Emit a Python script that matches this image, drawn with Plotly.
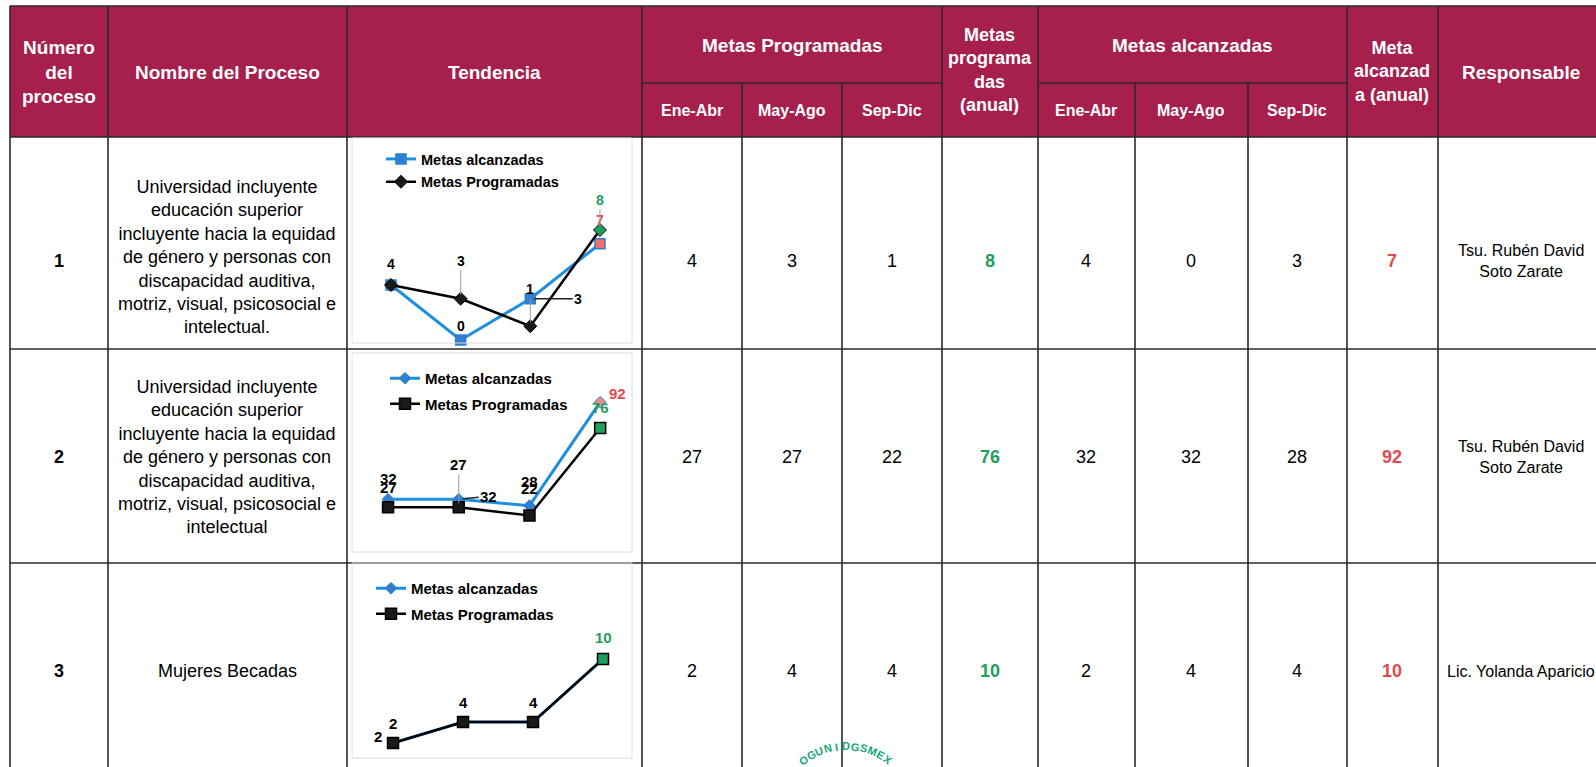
import math
import plotly.graph_objects as go

W, H = 1596, 767

# ---------------- data ----------------
numeros = ["1", "2", "3"]
nombres = [
    "Universidad incluyente<br>educación superior<br>incluyente hacia la equidad<br>de género y personas con<br>discapacidad auditiva,<br>motriz, visual, psicosocial e<br>intelectual.",
    "Universidad incluyente<br>educación superior<br>incluyente hacia la equidad<br>de género y personas con<br>discapacidad auditiva,<br>motriz, visual, psicosocial e<br>intelectual",
    "Mujeres Becadas",
]
periodos = ["Ene-Abr", "May-Ago", "Sep-Dic"]
periodos_graf = ["Ene-Abr", "May-Ago", "Sep-Dic", "Anual"]
metas_programadas = [[4, 3, 1], [27, 27, 22], [2, 4, 4]]
metas_prog_anual = [8, 76, 10]
metas_alcanzadas = [[4, 0, 3], [32, 32, 28], [2, 4, 4]]
metas_alc_anual = [7, 92, 10]
responsables = ["Tsu. Rubén David<br>Soto Zarate", "Tsu. Rubén David<br>Soto Zarate", "Lic. Yolanda Aparicio"]
serie_alc = "Metas alcanzadas"
serie_prog = "Metas Programadas"
sello = "OGUNIDGSMEX"

# ---------------- style ----------------
HEADER = "#A61F4D"
GRID = "#2a2a2a"
GREEN = "#1F9E5C"
RED = "#E5484F"
BLUE = "#1E8EDF"
BLUE_MK = "#2F7ECF"
FONT = "Liberation Sans, Arial, sans-serif"


def fx(p):
    return p / W


def fy(p):
    return 1 - p / H


shapes = []
annotations = []


def line(x0, y0, x1, y1, color=GRID, width=1.6):
    shapes.append(dict(type="line", xref="paper", yref="paper", x0=fx(x0), y0=fy(y0),
                       x1=fx(x1), y1=fy(y1), line=dict(color=color, width=width)))


def text(t, x, y, size=18, color="black", bold=False, xanchor="center"):
    annotations.append(dict(text=("<b>%s</b>" % t) if bold else t, xref="paper", yref="paper",
                            x=fx(x), y=fy(y), xanchor=xanchor, yanchor="middle", showarrow=False,
                            align="center", font=dict(family=FONT, size=size, color=color)))


# header background
shapes.append(dict(type="rect", xref="paper", yref="paper", x0=fx(10), x1=1, y0=fy(137), y1=fy(6),
                   fillcolor=HEADER, line=dict(width=0), layer="below"))

# grid
for x in [10, 108, 347, 642, 942, 1038, 1347, 1438]:
    line(x, 6, x, H)
for x in [742, 842, 1135, 1248]:
    line(x, 83, x, H)
for y in [6, 137, 349, 563]:
    line(10, y, W, y)
line(642, 83, 942, 83)
line(1038, 83, 1347, 83)

# header texts
HS = 19
text("Número<br>del<br>proceso", 59, 72, HS, "white", True)
text("Nombre del Proceso", 227, 72, HS, "white", True)
text("Tendencia", 494, 72, HS, "white", True)
text("Metas Programadas", 792, 45, HS, "white", True)
text("Metas<br>programa<br>das<br>(anual)", 990, 70, 18, "white", True)
text("Metas alcanzadas", 1192, 45, HS, "white", True)
text("Meta<br>alcanzad<br>a (anual)", 1392, 71, 18, "white", True)
text("Responsable", 1521, 72, HS, "white", True)
for p, cx in zip(periodos, [692, 792, 892]):
    text(p, cx, 110, 16, "white", True)
for p, cx in zip(periodos, [1086, 1191, 1297]):
    text(p, cx, 110, 16, "white", True)

# body rows
row_cy = [261, 457, 671]
name_cy = [257, 457, 671]
resp_cy = [261, 457, 671]
for i in range(3):
    cy = row_cy[i]
    text(numeros[i], 59, cy, 18, "black", True)
    text(nombres[i], 227, name_cy[i], 18)
    for v, cx in zip(metas_programadas[i], [692, 792, 892]):
        text(str(v), cx, cy, 18)
    text(str(metas_prog_anual[i]), 990, cy, 18, GREEN, True)
    for v, cx in zip(metas_alcanzadas[i], [1086, 1191, 1297]):
        text(str(v), cx, cy, 18)
    text(str(metas_alc_anual[i]), 1392, cy, 18, RED, True)
    text(responsables[i], 1521, resp_cy[i], 16)

# chart boxes (pixel regions)
boxes = [(352, 632, 138, 343), (352, 632, 353, 552), (352, 632, 563, 758)]
xranges = [[-0.56, 3.46], [-0.51, 3.45], [-0.586, 3.414]]
yranges = [[-0.22, 14.69], [-0.62, 122.4], [0.571, 19.14]]
for (x0, x1, y0, y1) in boxes:
    shapes.append(dict(type="rect", xref="paper", yref="paper", x0=fx(x0), x1=fx(x1), y0=fy(y1), y1=fy(y0),
                       line=dict(color="#DCDCDC", width=1), fillcolor="rgba(0,0,0,0)"))

fig = go.Figure()

alc_styles = [
    dict(symbol="square", size=10, line=dict(color=BLUE_MK, width=1.5)),
    dict(symbol="diamond", size=9, line=dict(color=BLUE_MK, width=1)),
    dict(symbol="diamond", size=9, line=dict(color=BLUE_MK, width=1)),
]
prog_styles = [
    dict(symbol="diamond", size=10, line=dict(color="black", width=1)),
    dict(symbol="square", size=11, line=dict(color="black", width=1.5)),
    dict(symbol="square", size=11, line=dict(color="black", width=1.5)),
]
alc_last = ["#F26D6D", "#F08A8A", "#F08A8A"]
legend_names = ["legend", "legend2", "legend3"]

for k in range(3):
    xa = "x" if k == 0 else "x%d" % (k + 1)
    ya = "y" if k == 0 else "y%d" % (k + 1)
    alc = metas_alcanzadas[k] + [metas_alc_anual[k]]
    prog = metas_programadas[k] + [metas_prog_anual[k]]
    ms = dict(alc_styles[k])
    ms["color"] = [BLUE_MK] * 3 + [alc_last[k]]
    fig.add_trace(go.Scatter(x=periodos_graf, y=alc, mode="lines+markers", name="<b>%s</b>" % serie_alc,
                             line=dict(color=BLUE, width=3), marker=ms, xaxis=xa, yaxis=ya,
                             legend=legend_names[k], legendgroup="a%d" % k, cliponaxis=False, hoverinfo="skip"))
    mp = dict(prog_styles[k])
    mp["color"] = ["#1a1a1a"] * 3 + [GREEN]
    fig.add_trace(go.Scatter(x=periodos_graf, y=prog, mode="lines+markers", name="<b>%s</b>" % serie_prog,
                             line=dict(color="black", width=2.5), marker=mp, xaxis=xa, yaxis=ya,
                             legend=legend_names[k], legendgroup="p%d" % k, cliponaxis=False, hoverinfo="skip"))

# data labels: (chart, series, index, color, xshift, yshift, ax, ay)
labels = [
    (0, "p", 0, "black", 0, 21, None, None),
    (0, "a", 1, "black", 0, 14, None, None),
    (0, "p", 1, "black", 0, 0, 0, -38),
    (0, "p", 2, "black", 0, 0, 0, -37),
    (0, "a", 2, "black", 0, 0, 48, 0),
    (0, "a", 3, RED, 0, 24, None, None),
    (0, "p", 3, GREEN, 0, 0, 0, -30),
    (1, "a", 0, "black", 0, 21, None, None),
    (1, "p", 0, "black", 0, 20, None, None),
    (1, "p", 1, "black", 0, 0, 0, -43),
    (1, "a", 1, "black", 0, 0, 30, -3),
    (1, "a", 2, "black", 0, 24, None, None),
    (1, "p", 2, "black", 0, 27, None, None),
    (1, "a", 3, RED, 17, 9, None, None),
    (1, "p", 3, GREEN, 0, 21, None, None),
    (2, "a", 0, "black", -15, 6, None, None),
    (2, "p", 0, "black", 0, 19, None, None),
    (2, "p", 1, "black", 0, 19, None, None),
    (2, "p", 2, "black", 0, 19, None, None),
    (2, "p", 3, GREEN, 0, 21, None, None),
]
for (k, s, i, col, xs, ys, ax, ay) in labels:
    vals = (metas_alcanzadas[k] + [metas_alc_anual[k]]) if s == "a" else (metas_programadas[k] + [metas_prog_anual[k]])
    xa = "x" if k == 0 else "x%d" % (k + 1)
    ya = "y" if k == 0 else "y%d" % (k + 1)
    a = dict(text="<b>%d</b>" % vals[i], xref=xa, yref=ya, x=periodos_graf[i], y=vals[i],
             font=dict(family=FONT, size=14 if k == 0 else 15, color=col), xshift=xs, yshift=ys)
    if ax is None:
        a["showarrow"] = False
    else:
        a.update(showarrow=True, ax=ax, ay=ay, arrowhead=0, arrowwidth=1 if ax == 0 else 1.5,
                 arrowcolor="#9a9a9a" if ax == 0 else "#222", standoff=4)
    annotations.append(a)

# stamp text (partially visible)
cxs, cys, rs = 846, 818, 72
n = len(sello)
for j, ch in enumerate(sello):
    th = -36 + 72 * j / (n - 1)
    px = cxs + rs * math.sin(math.radians(th))
    py = cys - rs * math.cos(math.radians(th))
    annotations.append(dict(text="<b>%s</b>" % ch, xref="paper", yref="paper", x=fx(px), y=fy(py),
                            showarrow=False, textangle=th, xanchor="center", yanchor="middle",
                            font=dict(family=FONT, size=11, color="#17A57C")))

layout = dict(
    width=W, height=H, margin=dict(l=0, r=0, t=0, b=0),
    paper_bgcolor="white", plot_bgcolor="rgba(0,0,0,0)",
    shapes=shapes, annotations=annotations, showlegend=True,
)
for k, (x0, x1, y0, y1) in enumerate(boxes):
    sx = "xaxis" if k == 0 else "xaxis%d" % (k + 1)
    sy = "yaxis" if k == 0 else "yaxis%d" % (k + 1)
    ya = "y" if k == 0 else "y%d" % (k + 1)
    xa = "x" if k == 0 else "x%d" % (k + 1)
    layout[sx] = dict(domain=[fx(x0), fx(x1)], range=xranges[k], visible=False, anchor=ya,
                      type="category", categoryorder="array", categoryarray=periodos_graf, fixedrange=True)
    layout[sy] = dict(domain=[fy(y1), fy(y0)], range=yranges[k], visible=False, anchor=xa, fixedrange=True)

leg_pos = [(381, 143), (385, 362), (371, 572)]
leg_font = [14.5, 15, 15]
leg_gap = [1, 3, 3]
for k, (lx, ly) in enumerate(leg_pos):
    layout[legend_names[k]] = dict(x=fx(lx), y=fy(ly), xanchor="left", yanchor="top",
                                   bgcolor="rgba(0,0,0,0)", tracegroupgap=leg_gap[k],
                                   font=dict(family=FONT, size=leg_font[k], color="black"))

fig.update_layout(**layout)
fig.write_html("out.html", config={"displayModeBar": False, "staticPlot": True},
               post_script="document.body.style.margin='0';document.body.style.overflow='hidden';")
